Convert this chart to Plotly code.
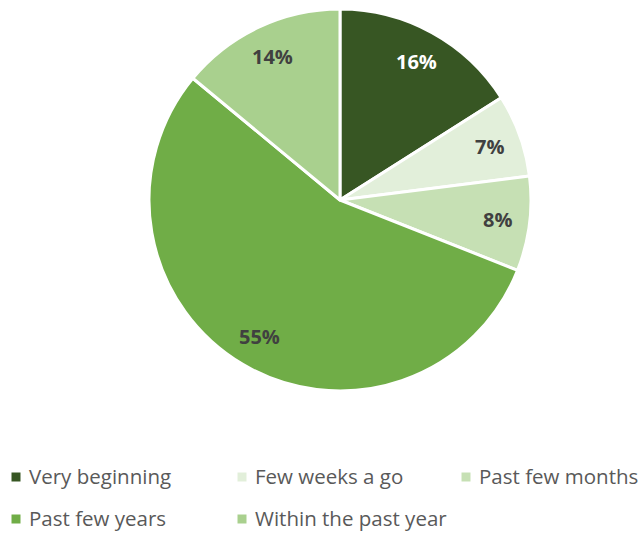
import math
import plotly.graph_objects as go

labels = ["Very beginning", "Few weeks a go", "Past few months", "Past few years", "Within the past year"]
values = [16, 7, 8, 55, 14]
colors = ["#375623", "#E2EFDA", "#C6E0B4", "#70AD47", "#A9D08E"]
text_colors = ["#FFFFFF", "#404040", "#404040", "#404040", "#404040"]

W, H = 643, 534
dom_x = [0.2317, 0.8258]
dom_y = [0.2678, 0.9831]

fig = go.Figure()

fig.add_trace(
    go.Pie(
        labels=labels,
        values=values,
        sort=False,
        direction="clockwise",
        rotation=0,
        marker=dict(colors=colors, line=dict(color="#FFFFFF", width=3)),
        textinfo="none",
        domain=dict(x=dom_x, y=dom_y),
        hoverinfo="label+percent",
        showlegend=False,
    )
)

# percentage labels, placed like Excel's best fit (~0.83 of the radius)
cx = (dom_x[0] + dom_x[1]) / 2
cy = (dom_y[0] + dom_y[1]) / 2
r_px = min((dom_x[1] - dom_x[0]) * W, (dom_y[1] - dom_y[0]) * H) / 2
total = sum(values)
cum = 0
for val, col in zip(values, text_colors):
    mid = (cum + val / 2) / total * 2 * math.pi
    cum += val
    d = 0.83 * r_px
    fig.add_annotation(
        x=cx + d * math.sin(mid) / W,
        y=cy + d * math.cos(mid) / H,
        xref="paper",
        yref="paper",
        xanchor="center",
        yanchor="middle",
        text=f"<b>{round(val / total * 100)}%</b>",
        showarrow=False,
        font=dict(family="Open Sans, sans-serif", size=20, color=col),
    )

# legend at the bottom: 3 columns, 2 rows
col_x = [16, 242, 466]
row_y = [477, 519]
sq = 9
for i, (lab, col) in enumerate(zip(labels, colors)):
    mx = col_x[i % 3]
    my = row_y[i // 3]
    fig.add_shape(
        type="rect",
        xref="paper",
        yref="paper",
        x0=(mx - sq / 2) / W,
        x1=(mx + sq / 2) / W,
        y0=1 - (my + sq / 2) / H,
        y1=1 - (my - sq / 2) / H,
        fillcolor=col,
        line=dict(width=0),
    )
    fig.add_annotation(
        x=(mx + 11) / W,
        y=1 - (my - 1) / H,
        xref="paper",
        yref="paper",
        xanchor="left",
        yanchor="middle",
        text=lab,
        showarrow=False,
        font=dict(family="Open Sans, sans-serif", size=20.5, color="#595959"),
    )

fig.update_layout(
    width=W,
    height=H,
    margin=dict(l=0, r=0, t=0, b=0),
    paper_bgcolor="white",
    plot_bgcolor="white",
    showlegend=False,
)

fig.write_html(
    "out.html",
    config={"displayModeBar": False},
    post_script="document.body.style.margin='0';document.body.style.overflow='hidden';",
)
